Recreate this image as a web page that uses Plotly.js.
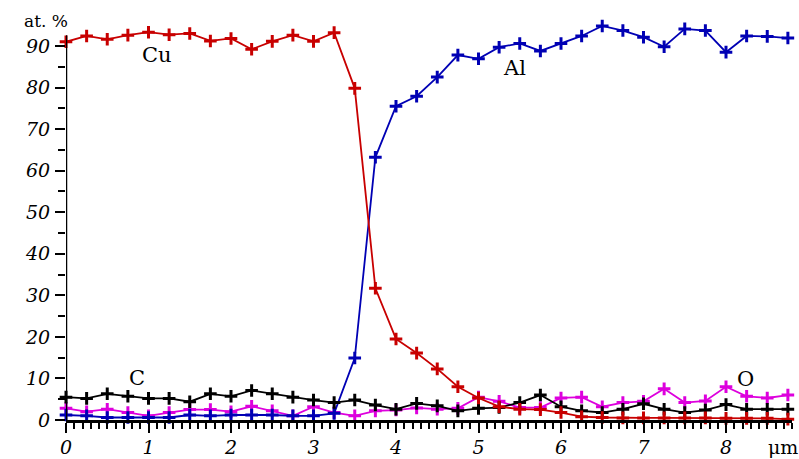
<!DOCTYPE html>
<html>
<head>
<meta charset="utf-8">
<script src="https://cdn.plot.ly/plotly-3.0.1.min.js"></script>
<style>html,body{margin:0;padding:0;background:#fff;}#chart{width:799px;height:459px;}</style>
</head>
<body>
<div id="chart"></div>
<script>
// Position along the scan, μm
const depth = [0, 0.25, 0.5, 0.75, 1, 1.25, 1.5, 1.75, 2, 2.25, 2.5, 2.75, 3, 3.25, 3.5, 3.75, 4, 4.25, 4.5, 4.75, 5, 5.25, 5.5, 5.75, 6, 6.25, 6.5, 6.75, 7, 7.25, 7.5, 7.75, 8, 8.25, 8.5, 8.75];
// Atomic percentages
const cu = [91.0, 92.4, 91.6, 92.6, 93.3, 92.7, 93.0, 91.2, 91.8, 89.2, 91.1, 92.6, 91.1, 93.2, 79.8, 31.7, 19.5, 16.1, 12.3, 8.0, 5.3, 3.2, 2.6, 2.5, 1.8, 0.8, 0.6, 0.5, 0.5, 0.5, 0.5, 0.5, 0.4, 0.4, 0.4, 0.2];
const al = [1.2, 1.0, 0.6, 0.6, 0.6, 0.6, 1.2, 1.0, 1.2, 1.2, 1.2, 1.0, 1.0, 1.6, 14.9, 63.2, 75.5, 77.9, 82.5, 87.8, 86.9, 89.7, 90.6, 88.8, 90.6, 92.4, 94.8, 93.7, 92.1, 89.8, 94.1, 93.7, 88.5, 92.4, 92.3, 91.9];
const c  = [5.5, 5.2, 6.3, 5.7, 5.2, 5.2, 4.4, 6.3, 5.7, 7.1, 6.3, 5.5, 4.8, 4.2, 4.8, 3.6, 2.6, 4.0, 3.4, 2.2, 2.8, 3.0, 4.2, 6.0, 3.2, 2.2, 1.8, 2.6, 3.9, 2.6, 1.8, 2.4, 3.7, 2.6, 2.6, 2.6];
const o  = [2.8, 2.0, 2.6, 1.8, 1.0, 1.8, 2.5, 2.5, 2.0, 3.3, 2.2, 1.0, 3.2, 1.8, 1.0, 2.2, 2.4, 2.9, 2.6, 2.8, 5.5, 4.5, 3.0, 3.0, 5.3, 5.5, 3.2, 4.2, 4.5, 7.5, 4.2, 4.6, 8.0, 5.7, 5.3, 6.0];
const yTickVals = [0, 10, 20, 30, 40, 50, 60, 70, 80, 90];
const yMinorVals = [5, 15, 25, 35, 45, 55, 65, 75, 85];
const xTickVals = [0, 1, 2, 3, 4, 5, 6, 7, 8];
const xHalfVals = [0.5, 1.5, 2.5, 3.5, 4.5, 5.5, 6.5, 7.5, 8.5];

function series(y, color, name) {
  return {
    x: depth, y: y, name: name, type: 'scatter', mode: 'lines+markers',
    cliponaxis: false,
    line: {color: color, width: 1.8},
    marker: {symbol: 'cross-thin', size: 9, line: {color: color, width: 3}}
  };
}

const traces = [
  series(o, '#dd00dd', 'O'),
  series(al, '#0000b4', 'Al'),
  series(c, '#000000', 'C'),
  series(cu, '#c80000', 'Cu')
];

function tickFont() {
  return {family: '"DejaVu Serif", serif', size: 19, color: '#000', style: 'italic'};
}
function labelFont(s) {
  return {family: '"DejaVu Serif", serif', size: s, color: '#000'};
}

const layout = {
  width: 799, height: 459,
  margin: {l: 66, r: 7, t: 21, b: 39},
  paper_bgcolor: '#fff', plot_bgcolor: '#fff',
  font: {family: '"DejaVu Serif", serif', size: 19, color: '#000'},
  showlegend: false,
  xaxis: {
    range: [0, 8.8], showgrid: false, zeroline: false,
    showline: true, linecolor: '#000', linewidth: 2.5,
    ticks: 'outside', ticklen: 10, tickwidth: 2, tickcolor: '#000',
    tickvals: xTickVals, ticktext: xTickVals.map(String),
    tickfont: tickFont(), ticklabelstandoff: -1,
    minor: {dtick: 0.1, tick0: 0, ticks: 'outside', ticklen: 6, tickwidth: 2, tickcolor: '#000'}
  },
  xaxis2: {
    range: [0, 8.8], overlaying: 'x', anchor: 'y', side: 'bottom',
    showgrid: false, zeroline: false, showline: false,
    ticks: 'outside', ticklen: 8, tickwidth: 2, tickcolor: '#000',
    tickvals: xHalfVals, ticktext: xHalfVals.map(() => ''), showticklabels: false
  },
  yaxis: {
    range: [0, 96], showgrid: false, zeroline: false,
    showline: false,
    ticks: 'outside', ticklen: 10, tickwidth: 2, tickcolor: '#000',
    tickvals: yTickVals, ticktext: yTickVals.map(String),
    tickfont: tickFont(), ticklabelstandoff: 1,
    minor: {tickvals: yMinorVals, ticks: 'outside', ticklen: 7, tickwidth: 2, tickcolor: '#000'}
  },
  shapes: [
    {type: 'line', xref: 'x', yref: 'y', x0: 0, x1: 0, y0: 0, y1: 92.6, line: {color: '#000', width: 2.5}},
    {type: 'line', xref: 'x', yref: 'y', x0: -0.1, x1: 0, y0: 92.6, y1: 92.6, line: {color: '#000', width: 2}}
  ],
  annotations: [
    {text: 'Cu', x: 1.1, y: 87.8, xref: 'x', yref: 'y', showarrow: false, font: labelFont(21)},
    {text: 'Al', x: 5.44, y: 84.7, xref: 'x', yref: 'y', showarrow: false, font: labelFont(21)},
    {text: 'C', x: 0.86, y: 10.0, xref: 'x', yref: 'y', showarrow: false, font: labelFont(21)},
    {text: 'O', x: 8.24, y: 9.8, xref: 'x', yref: 'y', showarrow: false, font: labelFont(21)},
    {text: 'at. %', x: (46 - 66) / 726, y: (419.5 - 21) / 398.5, xref: 'paper', yref: 'paper', xanchor: 'center', yanchor: 'middle', showarrow: false, font: labelFont(17)},
    {text: 'μm', x: (783 - 66) / 726, y: (419.5 - 446) / 398.5, xref: 'paper', yref: 'paper', xanchor: 'center', yanchor: 'middle', showarrow: false, font: labelFont(19)}
  ]
};

// invisible point on the overlay axis so that its half-unit ticks are drawn
traces.push({x: [0], y: [0], xaxis: 'x2', yaxis: 'y', mode: 'markers', marker: {opacity: 0}, hoverinfo: 'skip', showlegend: false});

Plotly.newPlot('chart', traces, layout, {displayModeBar: false, staticPlot: true});
</script>
</body>
</html>
